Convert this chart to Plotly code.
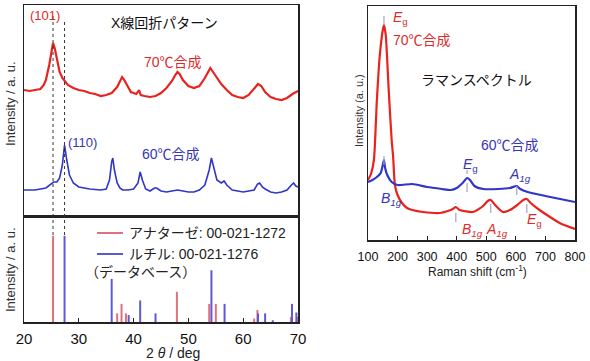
import plotly.graph_objects as go

W, H = 590, 361

# ---------------- XRD data (2theta in deg, intensity a.u.) ----------------
xrd_70_x = [20.0, 21.0, 22.0, 23.0, 23.6, 24.0, 24.6, 25.0, 25.3, 25.6, 26.0, 26.5, 27.0, 27.5,
            28.0, 29.0, 30.0, 31.0, 32.0, 33.0, 34.0, 35.0, 36.0, 37.0, 37.5, 37.9, 38.3, 39.0,
            39.5, 40.0, 40.5, 41.0, 41.3, 42.0, 43.0, 44.0, 45.0, 46.0, 47.0, 47.6, 48.0, 48.4,
            49.0, 50.0, 51.0, 52.0, 53.0, 53.7, 54.0, 54.5, 55.0, 56.0, 57.0, 58.0, 59.0, 60.0,
            61.0, 62.0, 62.7, 63.3, 64.0, 65.0, 66.0, 67.0, 68.0, 69.0, 70.0]
xrd_70_y = [126, 125, 126, 127, 131, 136, 151, 166, 173, 168, 156, 144, 138, 135,
            131, 128, 126, 125, 123, 122, 120, 121, 123, 129, 134, 139, 136, 128,
            124, 123, 122, 126, 121, 120, 119, 120, 123, 128, 135, 141, 144, 142,
            136, 130, 128, 130, 138, 145, 148, 144, 140, 132, 126, 121, 119, 118,
            121, 128, 132, 130, 124, 119, 117, 116, 118, 122, 125]

xrd_60_x = [20.0, 22.0, 24.0, 25.0, 25.4, 26.0, 26.5, 27.0, 27.4, 27.8, 28.3, 29.0, 30.0, 32.0,
            34.0, 35.0, 35.6, 36.0, 36.2, 36.5, 37.0, 37.5, 38.0, 39.0, 40.0, 40.8, 41.2, 41.6,
            42.2, 43.0, 43.8, 44.2, 45.0, 46.0, 47.0, 48.0, 49.0, 50.0, 51.0, 52.0, 53.0, 53.8,
            54.2, 54.6, 55.2, 56.0, 56.5, 57.0, 58.0, 60.0, 62.0, 62.6, 63.0, 63.5, 64.0, 65.0,
            66.0, 67.0, 68.0, 68.8, 69.2, 69.6, 70.0]
xrd_60_y = [26, 26, 28, 32, 34, 34, 38, 51, 71, 56, 41, 33, 29, 27,
            26, 27, 36, 54, 58, 46, 33, 28, 26, 26, 27, 33, 44, 36,
            27, 25, 28, 28, 25, 24, 25, 26, 25, 24, 24, 26, 31, 46,
            58, 48, 36, 33, 35, 31, 26, 24, 26, 32, 33, 29, 27, 24,
            23, 24, 26, 31, 33, 30, 29]

# Reference database lines (2theta, relative intensity)
anatase_x = [25.3, 37.0, 37.8, 38.6, 47.9, 53.8, 55.0, 62.0, 62.6, 68.7, 69.9]
anatase_i = [100, 10, 21, 10, 35, 21, 21, 4, 14, 6, 6]
rutile_x = [27.4, 36.0, 39.1, 41.2, 44.0, 54.2, 56.6, 62.7, 64.0, 65.4, 68.9, 69.7]
rutile_i = [100, 50, 8, 25, 10, 60, 21, 10, 10, 2, 21, 11]

xrd_ticks = [20, 30, 40, 50, 60, 70]
peak_101 = 25.3
peak_110 = 27.4

# ---------------- Raman data (shift cm-1, intensity a.u.) ----------------
raman_70_x = [100, 110, 120, 130, 140, 150, 154, 160, 170, 180, 185, 191, 200, 215, 232,
              250, 286, 343, 370, 387, 397, 410, 455, 475, 489, 505, 515, 530, 556, 580,
              605, 625, 637, 650, 680, 705, 748, 800]
raman_70_y = [60, 66, 80, 140, 185, 210, 215, 205, 150, 100, 83, 55, 45, 37, 32,
              30, 28, 27, 29, 31, 33, 30, 28, 31, 34, 39, 40, 35, 28, 30,
              35, 40, 41, 37, 30, 25, 17, 11]

raman_60_x = [100, 115, 130, 143, 150, 154, 158, 165, 180, 200, 250, 300, 350, 380, 400,
              420, 435, 445, 460, 490, 540, 580, 603, 615, 640, 700, 750, 800]
raman_60_y = [58, 60, 63, 67, 75, 80, 72, 65, 58, 55, 56, 53, 51, 50, 52,
              57, 62, 60, 54, 51, 51, 52, 54, 51, 48, 44, 41, 38]

raman_ticks = [100, 200, 300, 400, 500, 600, 700, 800]

# peak markers: (position, y_low, y_high)
raman_marks_70 = [(154, 215, 225), (397, 18, 37), (515, 27, 43), (637, 27, 42)]
raman_marks_60 = [(154, 75, 85), (435, 48, 70), (603, 45, 57)]

RED = "#e8231f"
BLUE = "#2f36c8"
RED_T = "#e02a2a"
BLUE_T = "#3535b5"
BAR_RED = "#e0707a"
BAR_BLUE = "#5a5ad8"
MARK = "#a8a0c8"
LATIN = "Arial, 'Liberation Sans', 'Noto Sans CJK JP', sans-serif"


def px(x):
    return x / W


def py(y):
    return 1 - y / H


fig = go.Figure()

fig.add_trace(go.Scatter(x=xrd_70_x, y=xrd_70_y, mode="lines", line=dict(color=RED, width=2.2),
                         xaxis="x", yaxis="y", showlegend=False))
fig.add_trace(go.Scatter(x=xrd_60_x, y=xrd_60_y, mode="lines", line=dict(color=BLUE, width=1.6),
                         xaxis="x", yaxis="y", showlegend=False))


def sticks(xs, hs):
    sx, sy = [], []
    for a, h in zip(xs, hs):
        sx += [a, a, None]
        sy += [0, h, None]
    return sx, sy


ax_, ay_ = sticks(anatase_x, anatase_i)
rx_, ry_ = sticks(rutile_x, rutile_i)
fig.add_trace(go.Scatter(x=ax_, y=ay_, mode="lines", line=dict(color=BAR_RED, width=2),
                         xaxis="x2", yaxis="y2", showlegend=False))
fig.add_trace(go.Scatter(x=rx_, y=ry_, mode="lines", line=dict(color=BAR_BLUE, width=2),
                         xaxis="x2", yaxis="y2", showlegend=False))

fig.add_trace(go.Scatter(x=raman_70_x, y=raman_70_y, mode="lines",
                         line=dict(color=RED, width=2.2, shape="spline", smoothing=0.6),
                         xaxis="x3", yaxis="y3", showlegend=False))
fig.add_trace(go.Scatter(x=raman_60_x, y=raman_60_y, mode="lines",
                         line=dict(color=BLUE, width=2.2, shape="spline", smoothing=0.6),
                         xaxis="x3", yaxis="y3", showlegend=False))

shapes = []
for pos, top in [(peak_101, 13), (peak_110, 20)]:
    shapes.append(dict(type="line", xref="x", yref="paper", x0=pos, x1=pos,
                       y0=py(235), y1=py(top), line=dict(color="#333", width=1, dash="dot")))
for pos, lo, hi in raman_marks_70 + raman_marks_60:
    shapes.append(dict(type="line", xref="x3", yref="y3", x0=pos, x1=pos, y0=lo, y1=hi,
                       line=dict(color=MARK, width=1.2, dash="dash")))
shapes.append(dict(type="line", xref="paper", yref="paper", x0=px(97), x1=px(123), y0=py(233), y1=py(233),
                   line=dict(color=BAR_RED, width=2)))
shapes.append(dict(type="line", xref="paper", yref="paper", x0=px(97), x1=px(123), y0=py(254), y1=py(254),
                   line=dict(color=BAR_BLUE, width=2)))

ann = []


def text(x, y, s, size, color, family=LATIN, xanchor="center", angle=0):
    ann.append(dict(x=px(x), y=py(y), xref="paper", yref="paper", text=s, showarrow=False,
                    font=dict(size=size, color=color, family=family), xanchor=xanchor,
                    yanchor="middle", textangle=angle))


text(164, 23, "X線回折パターン", 14, "#111")
text(45, 15, "(101)", 13, RED_T)
text(173, 62, "70℃合成", 14, RED_T)
text(82, 142, "(110)", 13, BLUE_T)
text(171, 154, "60℃合成", 14, BLUE_T)
text(10, 104, "Intensity / a. u.", 13, "#333", angle=-90)
text(10, 270, "Intensity / a. u.", 13, "#333", angle=-90)
text(127, 233, "アナターゼ: 00-021-1272", 14, "#222", xanchor="left")
text(127, 254, "ルチル: 00-021-1276", 14, "#222", xanchor="left")
text(140, 272, "（データベース）", 14, "#222")
text(173, 353, "2 <i>θ</i> / deg", 14, "#222")

text(359, 111, "Intensity (a. u.)", 11, "#333", angle=-90)
text(477, 271, "Raman shift (cm<sup>-1</sup>)", 12, "#222")
text(476, 80, "ラマンスペクトル", 14, "#111")
text(422, 40, "70℃合成", 14, RED_T)
text(510, 145, "60℃合成", 14, BLUE_T)
text(391, 18, "<i>E</i><sub>g</sub>", 14, RED_T, xanchor="left")
text(470, 165, "<i>E</i><sub>g</sub>", 14, BLUE_T)
text(520, 175, "<i>A</i><sub><i>1g</i></sub>", 14, BLUE_T)
text(391, 199, "<i>B</i><sub><i>1g</i></sub>", 14, BLUE_T)
text(472, 230, "<i>B</i><sub><i>1g</i></sub>", 14, RED_T)
text(497, 230, "<i>A</i><sub><i>1g</i></sub>", 14, RED_T)
text(534, 220, "<i>E</i><sub>g</sub>", 14, RED_T)

axis_common = dict(showline=True, linecolor="#222", linewidth=1.5, mirror=True, showgrid=False,
                   zeroline=False, automargin=False)

fig.update_layout(
    width=W, height=H, margin=dict(l=0, r=0, t=0, b=0, pad=0, autoexpand=False),
    paper_bgcolor="white", plot_bgcolor="white",
    showlegend=False,
    xaxis=dict(domain=[px(24), px(298)], range=[20, 70], anchor="y", showticklabels=False,
               ticks="", **axis_common),
    yaxis=dict(domain=[py(216), py(5)], range=[0, 211], anchor="x", showticklabels=False,
               ticks="", **axis_common),
    xaxis2=dict(domain=[px(24), px(298)], range=[20, 70], anchor="y2", tickvals=xrd_ticks,
                ticks="inside", ticklen=4, tickcolor="#222",
                tickfont=dict(size=15, color="#111", family=LATIN), ticklabelstandoff=2,
                **axis_common),
    yaxis2=dict(domain=[py(322), py(216)], range=[0, 123], anchor="x2", showticklabels=False,
                ticks="", **axis_common),
    xaxis3=dict(domain=[px(368), px(575)], range=[100, 800], anchor="y3", tickvals=raman_ticks,
                ticks="inside", ticklen=4, tickcolor="#222",
                tickfont=dict(size=12.5, color="#111", family=LATIN), ticklabelstandoff=4,
                **axis_common),
    yaxis3=dict(domain=[py(240), py(6)], range=[0, 234], anchor="x3", showticklabels=False,
                ticks="", **axis_common),
    shapes=shapes, annotations=ann,
)

fig.write_html("out.html", config={"displayModeBar": False, "staticPlot": True},
               post_script="document.body.style.margin='0';document.body.style.overflow='hidden';")
